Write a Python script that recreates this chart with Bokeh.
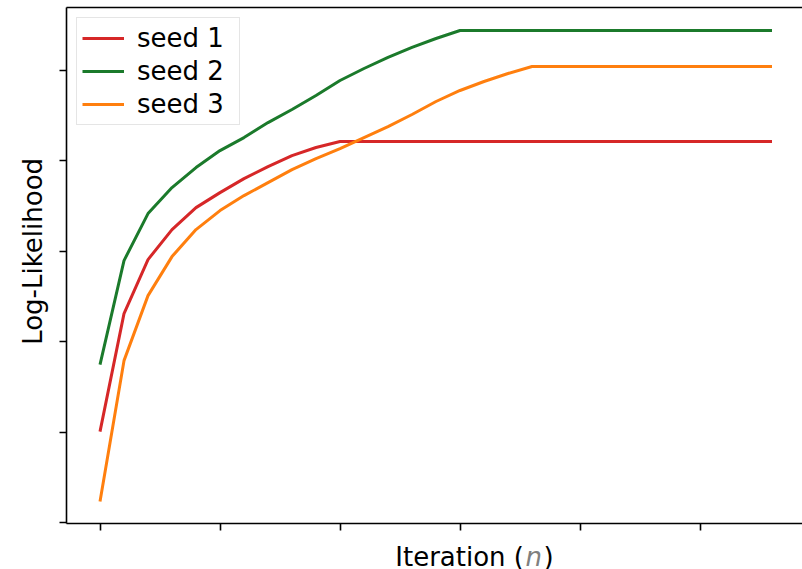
from math import pi

from bokeh.embed import file_html
from bokeh.layouts import column, row
from bokeh.models import FixedTicker, Label, LinearAxis, Range1d
from bokeh.plotting import figure
from bokeh.resources import INLINE

# Log-likelihood per EM iteration for three random initialisations
iterations = list(range(29))
seed_1 = [-499.6, -369.0, -309.2, -276.0, -251.7, -235.1, -219.6, -206.3,
          -194.1, -185.2, -178.6, -178.6, -178.6, -178.6, -178.6, -178.6,
          -178.6, -178.6, -178.6, -178.6, -178.6, -178.6, -178.6, -178.6,
          -178.6, -178.6, -178.6, -178.6, -178.6]
seed_2 = [-425.5, -310.3, -258.3, -229.5, -207.4, -188.6, -174.2, -157.6,
          -143.2, -127.7, -111.1, -97.8, -85.6, -74.5, -64.6, -55.7,
          -55.7, -55.7, -55.7, -55.7, -55.7, -55.7, -55.7, -55.7,
          -55.7, -55.7, -55.7, -55.7, -55.7]
seed_3 = [-576.8, -421.0, -349.1, -305.9, -276.0, -255.0, -238.4, -224.0,
          -209.6, -197.4, -186.4, -174.2, -162.0, -148.7, -134.3, -122.1,
          -112.2, -103.3, -95.6, -95.6, -95.6, -95.6, -95.6, -95.6,
          -95.6, -95.6, -95.6, -95.6, -95.6]
series_names = ["seed 1", "seed 2", "seed 3"]
series_colors = ["#d62728", "#1b7a2b", "#ff7f0e"]

x_ticks = [0, 5, 10, 15, 20, 25]
y_ticks = [-600, -500, -400, -300, -200, -100]

# page geometry (pixels): label strip on the left, label strip at the bottom
W, H = 802, 569
LEFT_W = 50          # strip holding the y title
BOTTOM_H = 38        # strip holding the x title
FL, FT, FB = 66, 7, 523   # frame edges on the page
X0, X1 = -1.396, 29.27
Y0, Y1 = -601.2, -30.3

FONT = "DejaVu Sans"
TITLE_SIZE = "26px"

main_w, main_h = W - LEFT_W, H - BOTTOM_H

p = figure(width=main_w, height=main_h, output_backend="svg",
           toolbar_location=None,
           x_range=Range1d(X0, X1), y_range=Range1d(Y0, Y1),
           min_border_left=FL - LEFT_W, min_border_right=0,
           min_border_top=FT, min_border_bottom=main_h - FB)
p.outline_line_color = None
p.xgrid.visible = False
p.ygrid.visible = False

for ys, name, color in zip([seed_1, seed_2, seed_3], series_names, series_colors):
    p.line(iterations, ys, line_color=color, line_width=3, line_join="round",
           legend_label=name)

for ax, ticks in ((p.xaxis[0], x_ticks), (p.yaxis[0], y_ticks)):
    ax.ticker = FixedTicker(ticks=ticks)
    ax.minor_tick_line_color = None
    ax.major_tick_in = 0
    ax.major_tick_out = 7
    ax.major_tick_line_width = 1.6
    ax.axis_line_width = 1.6
    ax.axis_line_color = "black"
    ax.major_label_text_color = None
    ax.major_label_standoff = 0

top = LinearAxis(ticker=FixedTicker(ticks=[]), axis_line_width=1.6,
                 axis_line_color="black", major_tick_out=0, major_tick_in=0,
                 minor_tick_line_color=None, major_label_text_color=None,
                 major_label_standoff=0)
p.add_layout(top, "above")

lg = p.legend[0]
lg.location = "top_left"
lg.margin = 10
lg.padding = 5
lg.spacing = 3
lg.glyph_width = 42
lg.glyph_height = 28
lg.label_height = 28
lg.label_width = 97
lg.label_standoff = 13
lg.label_text_font = FONT
lg.label_text_font_size = "26px"
lg.label_text_color = "black"
lg.border_line_color = "#cccccc"
lg.border_line_width = 1.6
lg.background_fill_color = "white"
lg.background_fill_alpha = 0.8


def strip(width, height, x_range, y_range):
    s = figure(width=width, height=height, output_backend="svg",
               toolbar_location=None, x_range=x_range, y_range=y_range,
               x_axis_type=None, y_axis_type=None, min_border=0)
    s.outline_line_color = None
    return s


# y title strip: coordinates are page pixels
py_strip = strip(LEFT_W, main_h, Range1d(0, LEFT_W), Range1d(main_h, 0))
py_strip.add_layout(Label(x=32, y=251, text="Log-Likelihood", angle=pi / 2,
                          text_align="center", text_baseline="middle",
                          text_font=FONT, text_font_size=TITLE_SIZE,
                          text_color="black"))

# x title strip: coordinates are page pixels
px_strip = strip(W, BOTTOM_H, Range1d(0, W), Range1d(H, main_h))
base = 556
px_strip.add_layout(Label(x=523.5, y=base, text="Iteration (",
                          text_align="right", text_baseline="alphabetic",
                          text_font=FONT, text_font_size=TITLE_SIZE,
                          text_color="black"))
px_strip.add_layout(Label(x=525, y=base, text="n", text_font_style="italic",
                          text_align="left", text_baseline="alphabetic",
                          text_font=FONT, text_font_size=TITLE_SIZE,
                          text_color="#808080"))
px_strip.add_layout(Label(x=543, y=base, text=")",
                          text_align="left", text_baseline="alphabetic",
                          text_font=FONT, text_font_size=TITLE_SIZE,
                          text_color="black"))

layout = column(row(py_strip, p, spacing=0), px_strip, spacing=0)
open("out.html", "w").write(file_html(layout, INLINE))
